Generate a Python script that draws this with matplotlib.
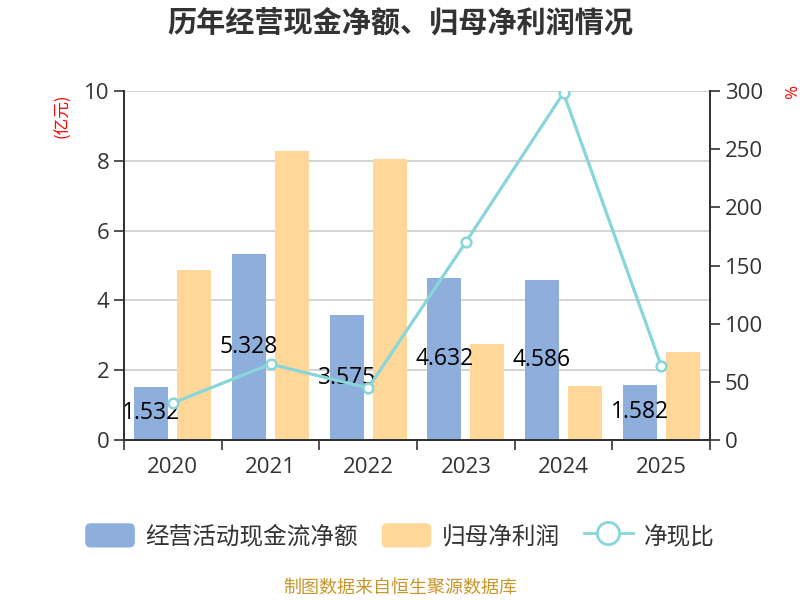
import matplotlib.pyplot as plt
import numpy as np
from matplotlib.lines import Line2D
from matplotlib.patches import Patch, FancyBboxPatch
from matplotlib.legend_handler import HandlerPatch

plt.rcParams['font.family'] = ['Open Sans', 'Noto Sans CJK SC', 'DejaVu Sans']

years = ['2020', '2021', '2022', '2023', '2024', '2025']
cash_flow = [1.532, 5.328, 3.575, 4.632, 4.586, 1.582]
net_profit = [4.87, 8.28, 8.07, 2.75, 1.55, 2.51]
cash_ratio = [31.8, 65.3, 44.7, 170.2, 298.5, 63.9]

BLUE = '#8eaedc'
ORANGE = '#ffd899'
TEAL = '#88d5da'
AXC = '#333333'
CJK = ['Noto Sans CJK SC', 'DejaVu Sans']


class RoundHandler(HandlerPatch):
    def create_artists(self, legend, orig_handle, xdescent, ydescent,
                       width, height, fontsize, trans):
        p = FancyBboxPatch((-xdescent, -ydescent), width, height,
                           boxstyle='round,pad=0,rounding_size=%f' % (height * 0.22),
                           facecolor=orig_handle.get_facecolor(), edgecolor='none',
                           transform=trans)
        return [p]


fig = plt.figure(figsize=(8, 6), dpi=100)
ax = fig.add_axes([0.155, 0.2667, 0.7325, 0.5813])
ax2 = ax.twinx()

x = np.arange(len(years))
w = 0.345
off = 0.22
ax.bar(x - off, cash_flow, w, color=BLUE, zorder=2)
ax.bar(x + off, net_profit, w, color=ORANGE, zorder=2)
for xi, v in zip(x, cash_flow):
    ax.text(xi - off, v / 2, '%.3f' % v, ha='center', va='center',
            fontsize=16.5, color='black', zorder=5)

ax2.plot(x, cash_ratio, color=TEAL, lw=2.3, marker='o', markersize=7,
         markerfacecolor='white', markeredgecolor=TEAL, markeredgewidth=1.8, zorder=4)

ax.set_xlim(-0.5, len(years) - 0.5)
ax.set_ylim(0, 10)
ax.set_yticks([0, 2, 4, 6, 8, 10])
ax2.set_ylim(0, 300)
ax2.set_yticks([0, 50, 100, 150, 200, 250, 300])
ax.set_xticks(x)
ax.set_xticklabels(years)
ax.set_xticks(np.arange(len(years) + 1) - 0.5, minor=True)
ax.tick_params(axis='x', which='major', length=0, labelsize=16, colors=AXC, pad=12)
ax.tick_params(axis='x', which='minor', length=7, width=1.2, color=AXC)
ax.tick_params(axis='y', length=7, width=1.2, color=AXC, labelsize=16, labelcolor=AXC)
ax2.tick_params(axis='y', length=7, width=1.2, color=AXC, labelsize=16, labelcolor=AXC)
ax.grid(axis='y', color='#cccccc', lw=1.2, zorder=0)
ax.set_axisbelow(True)
for a in (ax, ax2):
    a.spines['top'].set_visible(False)
    for s in ('left', 'right', 'bottom'):
        a.spines[s].set_color(AXC)
        a.spines[s].set_linewidth(1.4)

fig.text(0.5, 0.9625, '历年经营现金净额、归母净利润情况', ha='center', va='center',
         fontsize=21, fontweight='bold', color='#333333', family=CJK)
fig.text(0.079, 0.8075, '(亿元)', rotation=90, ha='center', va='center',
         fontsize=12, color='red', family=CJK)
fig.text(0.984, 0.847, '%', rotation=270, ha='center', va='center', fontsize=12, color='red')

handles = [Patch(facecolor=BLUE), Patch(facecolor=ORANGE),
           Line2D([], [], color=TEAL, lw=2, marker='o', markersize=16,
                  markerfacecolor='white', markeredgecolor=TEAL, markeredgewidth=2)]
fig.legend(handles, ['经营活动现金流净额', '归母净利润', '净现比'], loc='center',
           bbox_to_anchor=(0.5, 0.107), ncol=3, frameon=False,
           prop={'family': CJK, 'size': 17},
           handlelength=2.1, handleheight=1.2, columnspacing=1.0, handletextpad=0.45,
           labelcolor='#333333', handler_map={Patch: RoundHandler()})
fig.text(0.5, 0.02, '制图数据来自恒生聚源数据库', ha='center', va='center',
         fontsize=13, color='#c8962a', family=CJK)

fig.savefig('out.png', dpi=100)
